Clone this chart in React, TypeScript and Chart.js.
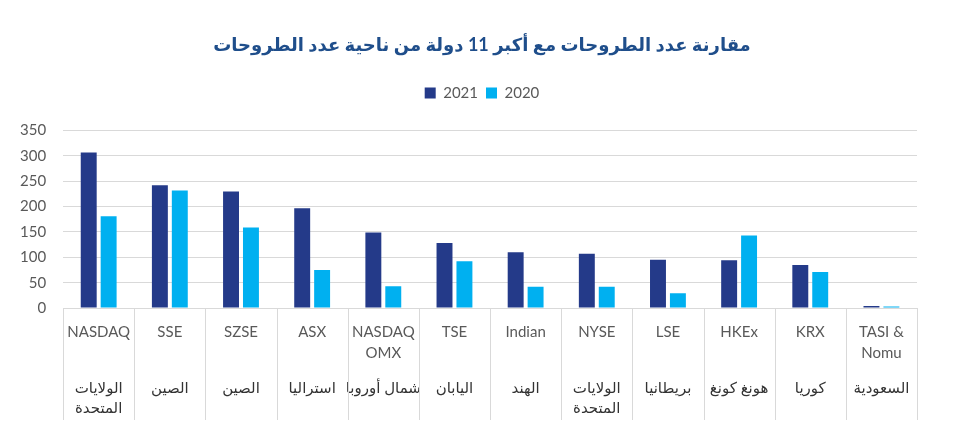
import { useEffect, useRef } from "react";
import { Chart, registerables } from "chart.js";

Chart.register(...registerables);

const TITLE = "مقارنة عدد الطروحات مع أكبر 11 دولة من ناحية عدد الطروحات";
const SERIES_NAMES = ["2021", "2020"];
const exchanges: string[][] = [
  ["NASDAQ"], ["SSE"], ["SZSE"], ["ASX"], ["NASDAQ", "OMX"], ["TSE"],
  ["Indian"], ["NYSE"], ["LSE"], ["HKEx"], ["KRX"], ["TASI &\u200E", "Nomu"],
];
const countries: string[][] = [
  ["الولايات", "المتحدة"], ["الصين"], ["الصين"], ["استراليا"], ["شمال أوروبا"], ["اليابان"],
  ["الهند"], ["الولايات", "المتحدة"], ["بريطانيا"], ["هونغ كونغ"], ["كوريا"], ["السعودية"],
];
const values2021 = [307, 242, 230, 197, 149, 128, 110, 107, 95, 94, 85, 4];
const values2020 = [181, 232, 159, 75, 43, 92, 42, 42, 29, 143, 71, 3];
const Y_MAX = 350;
const Y_STEP = 50;

const FONT = "Lato, 'DejaVu Sans', sans-serif";
const GRAY = "#595959";
const GRID = "#d9d9d9";

const legendSpacer = {
  id: "legendSpacer",
  beforeInit(chart: any) {
    const legend = chart.legend;
    if (!legend) return;
    const fit = legend.fit;
    legend.fit = function () {
      fit.call(legend);
      legend.height += 20;
    };
  },
};

const categorySeparators = {
  id: "categorySeparators",
  afterDraw(chart: any) {
    const scale = chart.scales.x;
    const ctx = chart.ctx;
    const n = scale.ticks.length;
    const xs: number[] = [];
    const half = (scale.getPixelForTick(1) - scale.getPixelForTick(0)) / 2;
    for (let i = 0; i < n; i++) xs.push(scale.getPixelForTick(i) - half);
    xs.push(scale.getPixelForTick(n - 1) + half);
    ctx.save();
    ctx.strokeStyle = GRID;
    ctx.lineWidth = 1;
    ctx.beginPath();
    for (const x of xs) {
      const px = Math.round(x) + 0.5;
      ctx.moveTo(px, scale.top);
      ctx.lineTo(px, scale.top + 112);
    }
    ctx.stroke();
    ctx.restore();
  },
};

export default function App() {
  const ref = useRef<HTMLCanvasElement | null>(null);
  useEffect(() => {
    if (!ref.current) return;
    const labels = exchanges.map((ex) => [ex[0] || "", ex[1] || ""]);
    const countryLabels = countries.map((c) => [c[0] || "", c[1] || ""]);
    const chart = new Chart(ref.current, {
      type: "bar",
      data: {
        labels,
        datasets: [
          { label: SERIES_NAMES[0], data: values2021, backgroundColor: "#243a89", categoryPercentage: 0.56, barPercentage: 0.8 },
          { label: SERIES_NAMES[1], data: values2020, backgroundColor: "#00b0f0", categoryPercentage: 0.56, barPercentage: 0.8 },
        ],
      },
      plugins: [legendSpacer, categorySeparators],
      options: {
        animation: false,
        responsive: true,
        maintainAspectRatio: false,
        layout: { padding: { left: 3, right: 14, top: 0, bottom: 25 } },
        plugins: {
          title: {
            display: true,
            text: "\u202B" + TITLE + "\u202C",
            color: "#1f4e8b",
            font: { family: FONT, size: 18, weight: "bold" },
            padding: { top: 34, bottom: 22 },
          },
          legend: {
            display: true,
            labels: {
              color: GRAY,
              boxWidth: 11,
              boxHeight: 11,
              padding: 8,
              font: { family: FONT, size: 15 },
            },
          },
          tooltip: { enabled: false },
        },
        scales: {
          x: {
            position: "bottom",
            grid: { offset: true, drawOnChartArea: false, drawTicks: false },
            border: { display: true, color: GRID },
            ticks: {
              color: GRAY,
              padding: 14,
              maxRotation: 0,
              autoSkip: false,
              font: { family: FONT, size: 15, lineHeight: "21px" } as any,
            },
            afterFit: (s: any) => {
              s.height = 70;
            },
          },
          x2: {
            type: "category",
            labels: countryLabels as any,
            position: "bottom",
            offset: true,
            grid: { display: false, drawTicks: false },
            border: { display: false },
            ticks: {
              color: "#333333",
              padding: 0,
              maxRotation: 0,
              autoSkip: false,
              font: { family: FONT, size: 15, lineHeight: "20px" } as any,
            },
            afterFit: (s: any) => {
              s.height = 44;
            },
          },
          y: {
            min: 0,
            max: Y_MAX,
            grid: { color: GRID, drawTicks: false },
            border: { display: false },
            ticks: {
              stepSize: Y_STEP,
              color: GRAY,
              padding: 17,
              font: { family: FONT, size: 15 },
            },
          },
          y2: {
            position: "right",
            display: true,
            min: 0,
            max: 1,
            grid: { display: false, drawTicks: false },
            border: { display: false },
            ticks: { display: false },
            afterFit: (s: any) => {
              s.width = 44;
            },
          },
        },
      },
    });
    return () => chart.destroy();
  }, []);
  return (
    <div style={{ position: "absolute", left: 0, top: 0, width: 975, height: 447 }}>
      <canvas ref={ref} />
    </div>
  );
}
